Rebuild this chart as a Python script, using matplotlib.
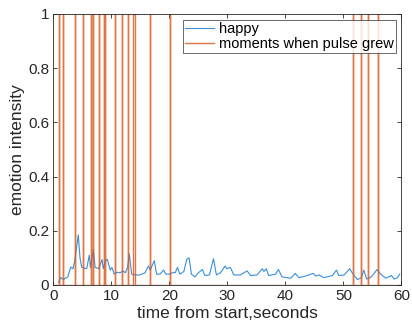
import numpy as np
import matplotlib
matplotlib.use("Agg")
import matplotlib.pyplot as plt

plt.rcParams['font.family'] = ['Liberation Sans', 'DejaVu Sans']

# happy emotion intensity over time
happy_t = [0.9, 1.3, 1.7, 2.5, 3.0, 3.4, 3.7, 4.3, 4.6, 4.9, 5.75, 6.2, 6.4, 6.9, 7.2,
           7.8, 8.4, 8.6, 9.0, 9.3, 9.8, 10.1, 10.5, 11.0, 11.5, 12.0, 12.4, 12.8, 13.1,
           13.5, 14.1, 14.9, 15.8, 16.4, 16.7, 17.4, 17.8, 18.4, 19.0, 19.4, 20.1, 20.7,
           21.0, 21.4, 21.8, 22.5, 23.0, 23.4, 23.8, 24.4, 25.0, 25.7, 26.1, 26.9, 27.6,
           28.1, 28.8, 29.6, 29.9, 30.5, 31.1, 32.2, 33.4, 34.0, 35.1, 36.0, 36.3, 36.7,
           37.1, 38.3, 38.8, 39.4, 40.9, 41.7, 42.3, 43.5, 44.0, 44.8, 45.2, 45.8, 46.6,
           48.1, 48.8, 49.2, 50.1, 51.1, 51.5, 52.4, 53.1, 53.5, 54.0, 54.8, 55.8, 56.4,
           57.3, 58.3, 58.7, 59.3, 59.7]
happy_v = [0.01, 0.028, 0.02, 0.03, 0.066, 0.06, 0.09, 0.185, 0.10, 0.065, 0.06, 0.11,
           0.065, 0.13, 0.065, 0.06, 0.094, 0.06, 0.09, 0.095, 0.055, 0.065, 0.04, 0.047,
           0.045, 0.052, 0.045, 0.065, 0.115, 0.04, 0.037, 0.037, 0.045, 0.07, 0.055, 0.09,
           0.04, 0.04, 0.055, 0.04, 0.04, 0.047, 0.045, 0.065, 0.04, 0.05, 0.095, 0.10,
           0.04, 0.03, 0.045, 0.057, 0.035, 0.037, 0.097, 0.037, 0.045, 0.07, 0.06, 0.065,
           0.037, 0.037, 0.052, 0.035, 0.037, 0.06, 0.05, 0.06, 0.035, 0.04, 0.057, 0.03,
           0.025, 0.043, 0.027, 0.033, 0.037, 0.043, 0.033, 0.037, 0.027, 0.035, 0.055,
           0.035, 0.037, 0.06, 0.045, 0.02, 0.027, 0.055, 0.022, 0.03, 0.057, 0.04, 0.025,
           0.035, 0.022, 0.027, 0.04]

# onset times of pulse increases (seconds) and how long each stayed up
pulse_t = [1.03, 1.61, 3.74, 5.18, 6.44, 6.78, 7.87, 8.74, 8.97, 10.64, 11.9, 12.93,
           13.79, 16.67, 20.1, 51.6, 53.0, 54.2, 55.9]
pulse_w = [0.02, 0.02, 0.02, 0.02, 0.02, 0.02, 0.02, 0.02, 0.02, 0.02, 0.02, 0.02,
           0.3, 0.02, 0.02, 0.02, 0.1, 0.02, 0.02]

# 0/1 pulse series
px, py = [0.0], [0.0]
for t, w in zip(pulse_t, pulse_w):
    px += [t, t, t + w, t + w]
    py += [0, 1, 1, 0]
px.append(60.0)
py.append(0.0)

fig = plt.figure(figsize=(4.12, 3.24), dpi=100)
ax = fig.add_axes([0.1294, 0.1204, 0.8451, 0.8364])

ax.plot(happy_t, happy_v, color='#3a8fd9', linewidth=0.8, label='happy')
ax.plot(px, py, color='#D95319', linewidth=1.0, alpha=0.8,
        label='moments when pulse grew')

ax.set_xlim(0, 60)
ax.set_ylim(0, 1)
ax.set_xticks(np.arange(0, 61, 10))
ax.set_yticks([0, 0.2, 0.4, 0.6, 0.8, 1])
ax.set_yticklabels(['0', '0.2', '0.4', '0.6', '0.8', '1'])
ax.tick_params(direction='in', top=True, right=True, length=3, width=0.6,
               labelsize=11, colors='#262626', pad=3)
for s in ax.spines.values():
    s.set_linewidth(0.6)
    s.set_color('#262626')

ax.set_xlabel('time from start,seconds', fontsize=12.5, color='#262626', labelpad=2)
ax.set_ylabel('emotion intensity', fontsize=12.5, color='#262626', labelpad=2)

leg = ax.legend(loc='upper right', fontsize=10.5, frameon=True, fancybox=False,
                handlelength=2.0, handletextpad=0.3, borderpad=0.15,
                labelspacing=0.05, borderaxespad=0.4)
leg.get_frame().set_edgecolor('#262626')
leg.get_frame().set_linewidth(0.6)

fig.savefig('out.png', dpi=100)
